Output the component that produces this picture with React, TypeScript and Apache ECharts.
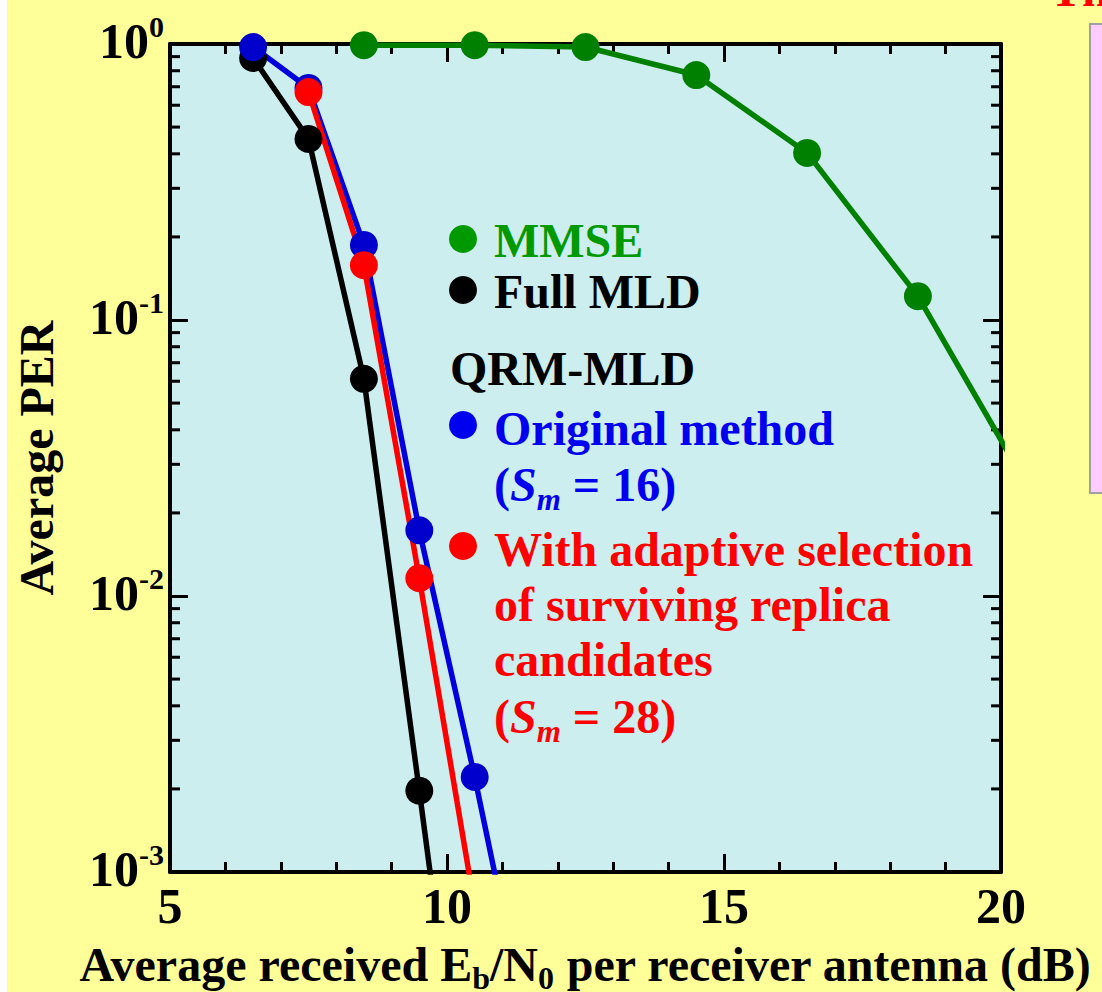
import React, { useEffect, useRef } from "react";
import * as echarts from "echarts";

const FONT = "'Liberation Serif', 'Times New Roman', Times, serif";

// Axis ranges and ticks
const X_MIN = 5;
const X_MAX = 20;
const X_INTERVAL = 5;
const Y_MIN = 1e-3;
const Y_MAX = 1;
const Y_MINOR = [2, 3, 4, 5, 6, 7, 8, 9];
const Y_DECADES = [1e-3, 1e-2, 1e-1];

// Series data (Eb/N0 in dB, average PER)
const snrMMSE = [8.5, 10.5, 12.5, 14.5, 16.5, 18.5, 20.5];
const perMMSE = [0.99, 0.99, 0.975, 0.772, 0.403, 0.122, 0.0246];

const snrFull = [6.5, 7.5, 8.5, 9.5, 10.5];
const perFull = [0.89, 0.453, 0.0612, 0.00197, 6e-5];

const snrOrig = [6.5, 7.5, 8.5, 9.5, 10.5, 11.5];
const perOrig = [0.975, 0.693, 0.187, 0.0173, 0.00221, 2.4e-4];

const snrAdapt = [7.5, 8.5, 9.5, 10.5];
const perAdapt = [0.67, 0.158, 0.0116, 7.5e-4];

const COLORS = {
  mmseLine: "#008000",
  mmseText: "#009900",
  full: "#000000",
  origLine: "#0000DD",
  origMarker: "#0000CC",
  origText: "#0000EE",
  adapt: "#FF0000",
};

const pair = (xs: number[], ys: number[]) => xs.map((x, i) => [x, ys[i]]);

const minorYValues: number[] = [];
Y_DECADES.forEach((d) => Y_MINOR.forEach((m) => minorYValues.push(m * d)));

function lineSeries(name: string, data: number[][], lineColor: string, markerColor: string) {
  return {
    name,
    type: "line",
    data,
    clip: true,
    symbol: "circle",
    symbolSize: 28,
    lineStyle: { color: lineColor, width: 5.5 },
    itemStyle: { color: markerColor },
    silent: true,
  };
}

const bold = (size: number, color = "#000") => ({
  fontFamily: FONT,
  fontWeight: "bold" as const,
  fontSize: size,
  color,
});

export default function App() {
  const ref = useRef<HTMLDivElement>(null);

  useEffect(() => {
    const chart = echarts.init(ref.current!, null, { renderer: "svg" });

    const legendFont = 48;
    const legendText = (text: string, x: number, y: number, color: string, rich?: any) => ({
      type: "text",
      x,
      y,
      z: 50,
      style: {
        text,
        fill: color,
        font: `bold ${legendFont}px ${FONT}`,
        verticalAlign: "middle",
        align: "left",
        rich,
      },
    });
    const legendDot = (x: number, y: number, color: string) => ({
      type: "circle",
      x,
      y,
      z: 50,
      shape: { cx: 0, cy: 0, r: 14 },
      style: { fill: color },
    });
    const smRich = (color: string) => ({
      n: { fontFamily: FONT, fontWeight: "bold", fontSize: legendFont, fill: color, lineHeight: 58 },
      it: { fontFamily: FONT, fontStyle: "italic", fontWeight: "bold", fontSize: legendFont, fill: color, lineHeight: 58 },
      sub: {
        fontFamily: FONT,
        fontStyle: "italic",
        fontWeight: "bold",
        fontSize: 31,
        fill: color,
        lineHeight: 26,
        padding: [30, 0, 0, 0],
      },
    });

    const option: any = {
      animation: false,
      backgroundColor: "#FFFF99",
      grid: {
        left: 170,
        right: 101,
        top: 44,
        bottom: 120,
        show: true,
        containLabel: false,
        outerBoundsMode: "none",
        backgroundColor: "#CCEEEE",
        borderWidth: 0,
      },
      xAxis: [
        {
          type: "value",
          min: X_MIN,
          max: X_MAX,
          interval: X_INTERVAL,
          position: "bottom",
          axisLine: { show: true, onZero: false, lineStyle: { color: "#000", width: 4 } },
          axisTick: { show: true, inside: true, length: 18, lineStyle: { color: "#000", width: 3 } },
          minorTick: { show: true, splitNumber: 5, length: 10, lineStyle: { color: "#000", width: 3 } },
          splitLine: { show: false },
          axisLabel: { ...bold(50), margin: 9 },
          name: "Average received E{sub|b}/N{sub|0} per receiver antenna (dB)",
          nameLocation: "middle",
          nameGap: 50,
          nameTextStyle: {
            ...bold(48),
            lineHeight: 54,
            rich: {
              sub: { ...bold(32), lineHeight: 26, padding: [26, 0, 0, 0] },
            },
          },
        },
        {
          type: "value",
          min: X_MIN,
          max: X_MAX,
          interval: X_INTERVAL,
          position: "top",
          axisLine: { show: true, onZero: false, lineStyle: { color: "#000", width: 4 } },
          axisTick: { show: true, inside: true, length: 18, lineStyle: { color: "#000", width: 3 } },
          minorTick: { show: true, splitNumber: 5, length: 10, lineStyle: { color: "#000", width: 3 } },
          splitLine: { show: false },
          axisLabel: { show: false },
        },
      ],
      yAxis: [
        {
          type: "log",
          logBase: 10,
          min: Y_MIN,
          max: Y_MAX,
          position: "left",
          axisLine: { show: true, onZero: false, lineStyle: { color: "#000", width: 4 } },
          axisTick: { show: true, inside: true, length: 18, lineStyle: { color: "#000", width: 3 } },
          splitLine: { show: false },
          axisLabel: {
            margin: 6,
            formatter: (v: number) => `{b|10}{s|${Math.round(Math.log10(v))}}`,
            rich: {
              b: { ...bold(50), lineHeight: 50, padding: [0, 0, 6, 0] },
              s: { ...bold(30), lineHeight: 24, padding: [0, 0, 36, 0] },
            },
          },
          name: "Average PER",
          nameLocation: "middle",
          nameRotate: 90,
          nameGap: 110,
          nameTextStyle: { ...bold(48) },
        },
        {
          type: "log",
          logBase: 10,
          min: Y_MIN,
          max: Y_MAX,
          position: "right",
          axisLine: { show: true, onZero: false, lineStyle: { color: "#000", width: 4 } },
          axisTick: { show: true, inside: true, length: 18, lineStyle: { color: "#000", width: 3 } },
          splitLine: { show: false },
          axisLabel: { show: false },
        },
      ],
      series: [
        {
          type: "custom",
          name: "minorY",
          silent: true,
          xAxisIndex: 0,
          yAxisIndex: 0,
          data: minorYValues.map((v) => [X_MIN, v]),
          renderItem: (params: any, api: any) => {
            const v = api.value(1);
            const l = api.coord([X_MIN, v]);
            const r = api.coord([X_MAX, v]);
            const st = { stroke: "#000", lineWidth: 3 };
            return {
              type: "group",
              children: [
                { type: "line", shape: { x1: l[0], y1: l[1], x2: l[0] + 10, y2: l[1] }, style: st },
                { type: "line", shape: { x1: r[0], y1: r[1], x2: r[0] - 10, y2: r[1] }, style: st },
              ],
            };
          },
        },
        lineSeries("MMSE", pair(snrMMSE, perMMSE), COLORS.mmseLine, COLORS.mmseLine),
        lineSeries("Full MLD", pair(snrFull, perFull), COLORS.full, COLORS.full),
        lineSeries("Original method", pair(snrOrig, perOrig), COLORS.origLine, COLORS.origMarker),
        lineSeries("With adaptive selection", pair(snrAdapt, perAdapt), COLORS.adapt, COLORS.adapt),
      ],
      graphic: [
        { type: "rect", x: 0, y: 0, z: -10, shape: { width: 7, height: 992 }, style: { fill: "#FFFFFF" } },
        {
          type: "rect",
          x: 1090,
          y: 24,
          shape: { width: 30, height: 469 },
          style: { fill: "#FFCCFF", stroke: "#A0A0A0", lineWidth: 2 },
        },
        {
          type: "text",
          x: 1050,
          y: -11,
          style: { text: "Th", fill: "#FF0000", font: `bold 48px ${FONT}`, verticalAlign: "middle", align: "left" },
        },
        legendDot(463, 239, COLORS.mmseText),
        legendText("MMSE", 494, 240, COLORS.mmseText),
        legendDot(463, 290, "#000"),
        legendText("Full MLD", 494, 291, "#000"),
        legendText("QRM-MLD", 450, 368, "#000"),
        legendDot(463, 425, COLORS.origText),
        legendText("Original method", 494, 428, COLORS.origText),
        legendText("({it|S}{sub|m}{n| = 16)}", 494, 484, COLORS.origText, smRich(COLORS.origText)),
        legendDot(463, 546, COLORS.adapt),
        legendText("With adaptive selection", 494, 549, COLORS.adapt),
        legendText("of surviving replica", 494, 604, COLORS.adapt),
        legendText("candidates", 494, 659, COLORS.adapt),
        legendText("({it|S}{sub|m}{n| = 28)}", 494, 716, COLORS.adapt, smRich(COLORS.adapt)),
      ],
    };

    chart.setOption(option);
    return () => chart.dispose();
  }, []);

  return (
    <div style={{ position: "fixed", left: 0, top: 0, width: 1102, height: 992 }}>
      <div ref={ref} style={{ width: 1102, height: 992 }} />
    </div>
  );
}
